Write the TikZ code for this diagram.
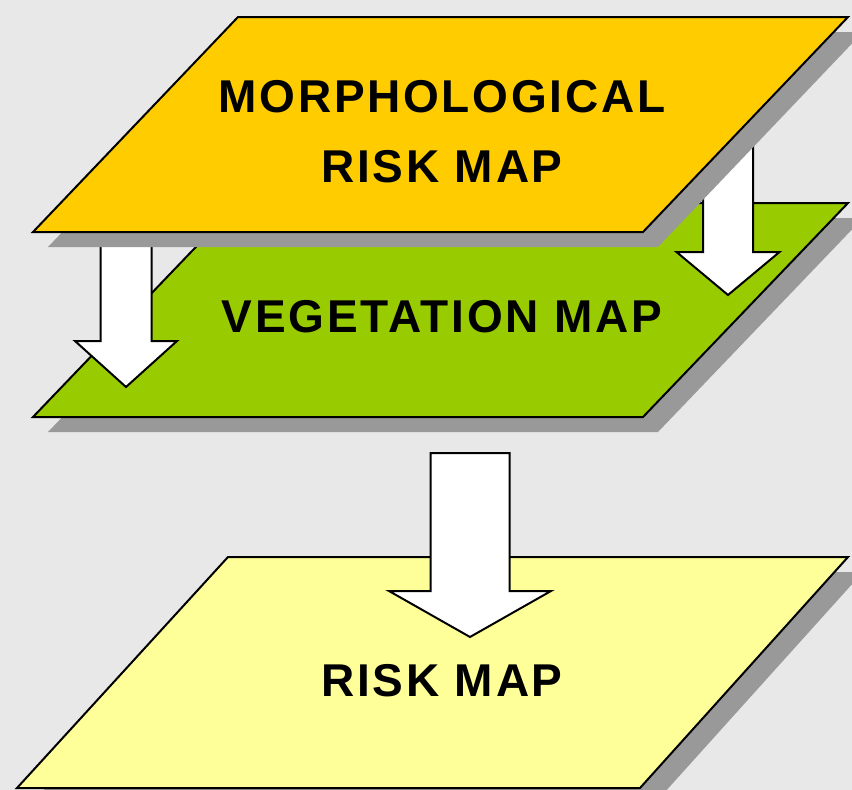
\documentclass[tikz,border=0pt]{standalone}
\usepackage{fontspec}
\setmainfont{Liberation Sans}
\usetikzlibrary{positioning}
\definecolor{backcol}{HTML}{E8E8E8}
\definecolor{shadowcol}{HTML}{999999}
\definecolor{morphcol}{HTML}{FFCC00}
\definecolor{vegcol}{HTML}{99CC00}
\definecolor{riskcol}{HTML}{FFFF99}
% block arrow: centre x, top y, head y, tip y, half shaft, half head
\newcommand{\blockarrow}[6]{%
  \draw[downarrow] (#1-#5,#2) -- (#1+#5,#2) -- (#1+#5,#3) -- (#1+#6,#3)
    -- (#1,#4) -- (#1-#6,#3) -- (#1-#5,#3) -- cycle;}

\begin{document}
\begin{tikzpicture}[x=1pt,y=-1pt]
    \tikzstyle{layer} = [draw=black,line width=2pt,line join=miter]
    \tikzstyle{shadow} = [fill=shadowcol,shift={(15,15)}]
    \tikzstyle{downarrow} = [fill=white,draw=black,line width=2pt]
    \tikzstyle{label} = [inner sep=0pt,font=\fontsize{46}{70}\selectfont\bfseries\addfontfeatures{LetterSpace=6},align=center]
      \fill[backcol] (0,0) rectangle (852,790);
      \useasboundingbox (0,0) rectangle (852,790);
      % vegetation layer
      \fill[shadow] (33,417) -- (238,203) -- (848,203) -- (643,417) -- cycle;
      \draw[layer,fill=vegcol] (33,417) -- (238,203) -- (848,203) -- (643,417) -- cycle;
      \node[label] (veg) at (442,316.5) {VEGETATION MAP};
      \blockarrow{126}{236}{341}{387}{25.5}{51}
      \blockarrow{728}{130}{252}{295}{25}{51.5}
      % morphological layer
      \fill[shadow] (33,232) -- (238,17) -- (848,17) -- (643,232) -- cycle;
      \draw[layer,fill=morphcol] (33,232) -- (238,17) -- (848,17) -- (643,232) -- cycle;
      \node[label] (morph) at (442,131.5) {MORPHOLOGICAL\\RISK MAP};
      % risk layer
      \fill[shadow] (17,788) -- (228,557) -- (848,557) -- (640,788) -- cycle;
      \draw[layer,fill=riskcol] (17,788) -- (228,557) -- (848,557) -- (640,788) -- cycle;
      \node[label] (risk) at (442,681) {RISK MAP};
      \blockarrow{470}{453}{591}{637}{39.5}{81}
  \end{tikzpicture}
\end{document}
